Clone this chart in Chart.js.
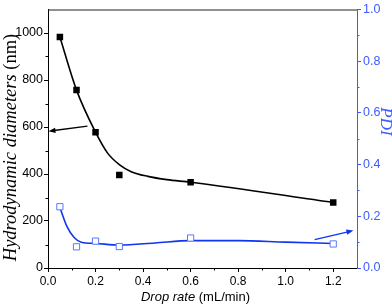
<!DOCTYPE html>
<html>
<head>
<meta charset="utf-8">
<script src="https://cdn.jsdelivr.net/npm/chart.js@4/dist/chart.umd.min.js"></script>
<style>
html,body{margin:0;padding:0;background:#fff;}
#wrap{width:392px;height:306px;}
</style>
</head>
<body>
<div id="wrap"><canvas id="c" width="392" height="306"></canvas></div>
<script>
// ---- data ----
const dropRate = [0.05, 0.12, 0.2, 0.3, 0.6, 1.2];
const diameter = [983, 757, 578, 396, 365, 279];
const pdi = [0.237, 0.082, 0.104, 0.083, 0.116, 0.093];

const diameterFitX = [0.05, 0.12, 0.2, 0.25, 0.3, 0.35, 0.42, 0.5, 0.6, 1.2];
const diameterFit = [983, 757, 578, 490, 440, 410, 390, 376, 365, 279];
const pdiFitX = [0.05, 0.08, 0.11, 0.14, 0.2, 0.3, 0.45, 0.6, 0.8, 1.0, 1.2];
const pdiFit = [0.234, 0.16, 0.118, 0.1, 0.095, 0.089, 0.097, 0.106, 0.106, 0.1, 0.095];

const xTicks = [0, 0.2, 0.4, 0.6, 0.8, 1.0, 1.2];
const xMinor = [0.1, 0.3, 0.5, 0.7, 0.9, 1.1];
const yTicks = [0, 200, 400, 600, 800, 1000];
const yMinor = [100, 300, 500, 700, 900];
const y2Ticks = [0, 0.2, 0.4, 0.6, 0.8, 1.0];
const y2Minor = [0.1, 0.3, 0.5, 0.7, 0.9];

const xTitleItalic = 'Drop rate';
const xTitleUnit = ' (mL/min)';
const yTitleItalic = 'Hydrodynamic diameters';
const yTitleUnit = ' (nm)';
const y2Title = 'PDI';

// arrows: [x1, y1, x2, y2] in data units (tail -> head)
const arrowDiameter = [0.166, 604, 0.002, 582];
const arrowPdi = [1.122, 0.110, 1.285, 0.145];

const BLUE_AXIS = '#3d5bff';
const BLUE_LINE = '#1034f0';
const BLUE_MARK = '#5a78ff';
const SANS = '"Liberation Sans", Arial, sans-serif';
const SERIF = '"Liberation Serif", "Times New Roman", serif';

const toXY = (xs, ys) => xs.map((x, i) => ({x: x, y: ys[i]}));

function setTicks(vals) {
  return function(scale) { scale.ticks = vals.map(v => ({value: v})); };
}

const decor = {
  id: 'decor',
  afterDraw(chart) {
    const ctx = chart.ctx;
    const a = chart.chartArea;
    const sx = chart.scales.x, sy = chart.scales.y, sy2 = chart.scales.y1;
    ctx.save();
    // top frame
    ctx.strokeStyle = '#222';
    ctx.lineWidth = 1;
    ctx.beginPath();
    ctx.moveTo(a.left, a.top + 0.5);
    ctx.lineTo(a.right, a.top + 0.5);
    ctx.stroke();
    // minor ticks
    ctx.strokeStyle = '#000';
    ctx.beginPath();
    xMinor.forEach(v => {
      const p = Math.round(sx.getPixelForValue(v)) + 0.5;
      ctx.moveTo(p, a.bottom); ctx.lineTo(p, a.bottom + 2.5);
    });
    yMinor.forEach(v => {
      const p = Math.round(sy.getPixelForValue(v)) + 0.5;
      ctx.moveTo(a.left, p); ctx.lineTo(a.left - 2.5, p);
    });
    ctx.stroke();
    ctx.strokeStyle = BLUE_AXIS;
    ctx.beginPath();
    y2Minor.forEach(v => {
      const p = Math.round(sy2.getPixelForValue(v)) + 0.5;
      ctx.moveTo(a.right, p); ctx.lineTo(a.right + 2.5, p);
    });
    ctx.stroke();

    // arrows
    function arrow(arr, ys, color) {
      const x1 = sx.getPixelForValue(arr[0]), y1 = ys.getPixelForValue(arr[1]);
      const x2 = sx.getPixelForValue(arr[2]), y2 = ys.getPixelForValue(arr[3]);
      const ang = Math.atan2(y2 - y1, x2 - x1);
      const L = 7, W = 2.6;
      ctx.strokeStyle = color; ctx.fillStyle = color; ctx.lineWidth = 1.3;
      ctx.beginPath();
      ctx.moveTo(x1, y1);
      ctx.lineTo(x2 - Math.cos(ang) * L * 0.8, y2 - Math.sin(ang) * L * 0.8);
      ctx.stroke();
      ctx.beginPath();
      ctx.moveTo(x2, y2);
      ctx.lineTo(x2 - Math.cos(ang) * L - Math.sin(ang) * W, y2 - Math.sin(ang) * L + Math.cos(ang) * W);
      ctx.lineTo(x2 - Math.cos(ang) * L + Math.sin(ang) * W, y2 - Math.sin(ang) * L - Math.cos(ang) * W);
      ctx.closePath();
      ctx.fill();
    }
    arrow(arrowDiameter, sy, '#000');
    arrow(arrowPdi, sy2, BLUE_LINE);

    // x title
    ctx.fillStyle = '#000';
    ctx.textBaseline = 'alphabetic';
    const fI = 'italic 13px ' + SANS, fR = '13px ' + SANS;
    ctx.font = fI; const w1 = ctx.measureText(xTitleItalic).width;
    ctx.font = fR; const w2 = ctx.measureText(xTitleUnit).width;
    let xs = 195.5 - (w1 + w2) / 2;
    ctx.font = fI; ctx.textAlign = 'left'; ctx.fillText(xTitleItalic, xs, 301);
    ctx.font = fR; ctx.fillText(xTitleUnit, xs + w1, 301);

    // left y title
    const gI = 'italic 18.5px ' + SERIF, gR = '18.5px ' + SERIF;
    ctx.font = gI; const v1 = ctx.measureText(yTitleItalic).width;
    ctx.font = gR; const v2 = ctx.measureText(yTitleUnit).width;
    ctx.save();
    ctx.translate(16, 147.5);
    ctx.rotate(-Math.PI / 2);
    let ys0 = -(v1 + v2) / 2;
    ctx.font = gI; ctx.fillText(yTitleItalic, ys0, 0);
    ctx.font = gR; ctx.fillText(yTitleUnit, ys0 + v1, 0);
    ctx.restore();

    // right title
    ctx.save();
    ctx.fillStyle = BLUE_AXIS;
    ctx.translate(381, 121.5);
    ctx.rotate(Math.PI / 2);
    ctx.font = 'italic 17px ' + SERIF;
    ctx.textAlign = 'center';
    ctx.fillText(y2Title, 0, 0);
    ctx.restore();
    ctx.restore();
  }
};

new Chart(document.getElementById('c'), {
  type: 'line',
  data: {
    datasets: [
      {data: toXY(dropRate, diameter), yAxisID: 'y', showLine: false, pointStyle: 'rect',
       pointRadius: 4.6, pointBackgroundColor: '#000', pointBorderColor: '#000', pointBorderWidth: 0, order: 0},
      {data: toXY(dropRate, pdi), yAxisID: 'y1', showLine: false, pointStyle: 'rect',
       pointRadius: 4.4, pointBackgroundColor: '#fff', pointBorderColor: BLUE_MARK, pointBorderWidth: 1, order: 0},
      {data: toXY(diameterFitX, diameterFit), yAxisID: 'y', borderColor: '#000', borderWidth: 1.6,
       pointRadius: 0, cubicInterpolationMode: 'monotone', order: 1},
      {data: toXY(pdiFitX, pdiFit), yAxisID: 'y1', borderColor: BLUE_LINE, borderWidth: 1.6,
       pointRadius: 0, cubicInterpolationMode: 'monotone', order: 1}
    ]
  },
  options: {
    responsive: false,
    animation: false,
    devicePixelRatio: 1,
    layout: {padding: {top: 5, left: 0, right: 0, bottom: 0}},
    plugins: {legend: {display: false}, tooltip: {enabled: false}},
    scales: {
      x: {
        type: 'linear', min: 0, max: 1.3,
        afterBuildTicks: setTicks(xTicks),
        afterFit(s) { s.height = 38; },
        ticks: {color: '#000', padding: 2, font: {family: SANS, size: 12}, maxRotation: 0,
                callback: v => v.toFixed(1)},
        grid: {drawOnChartArea: false, drawTicks: true, tickLength: 4, color: '#000'},
        border: {color: '#000', width: 1}
      },
      y: {
        type: 'linear', position: 'left', min: 0, max: 1100,
        afterBuildTicks: setTicks(yTicks),
        afterFit(s) { s.width = 48; },
        ticks: {color: '#000', padding: 1, font: {family: SANS, size: 12.5},
                callback: v => String(v)},
        grid: {drawOnChartArea: false, drawTicks: true, tickLength: 4, color: '#000'},
        border: {color: '#000', width: 1}
      },
      y1: {
        type: 'linear', position: 'right', min: 0, max: 1.0,
        afterBuildTicks: setTicks(y2Ticks),
        afterFit(s) { s.width = 35; },
        ticks: {color: BLUE_AXIS, padding: 2, font: {family: SANS, size: 12.5},
                callback: v => v.toFixed(1)},
        grid: {drawOnChartArea: false, drawTicks: true, tickLength: 4, color: BLUE_AXIS},
        border: {color: BLUE_AXIS, width: 1}
      }
    }
  },
  plugins: [decor]
});
</script>
</body>
</html>
